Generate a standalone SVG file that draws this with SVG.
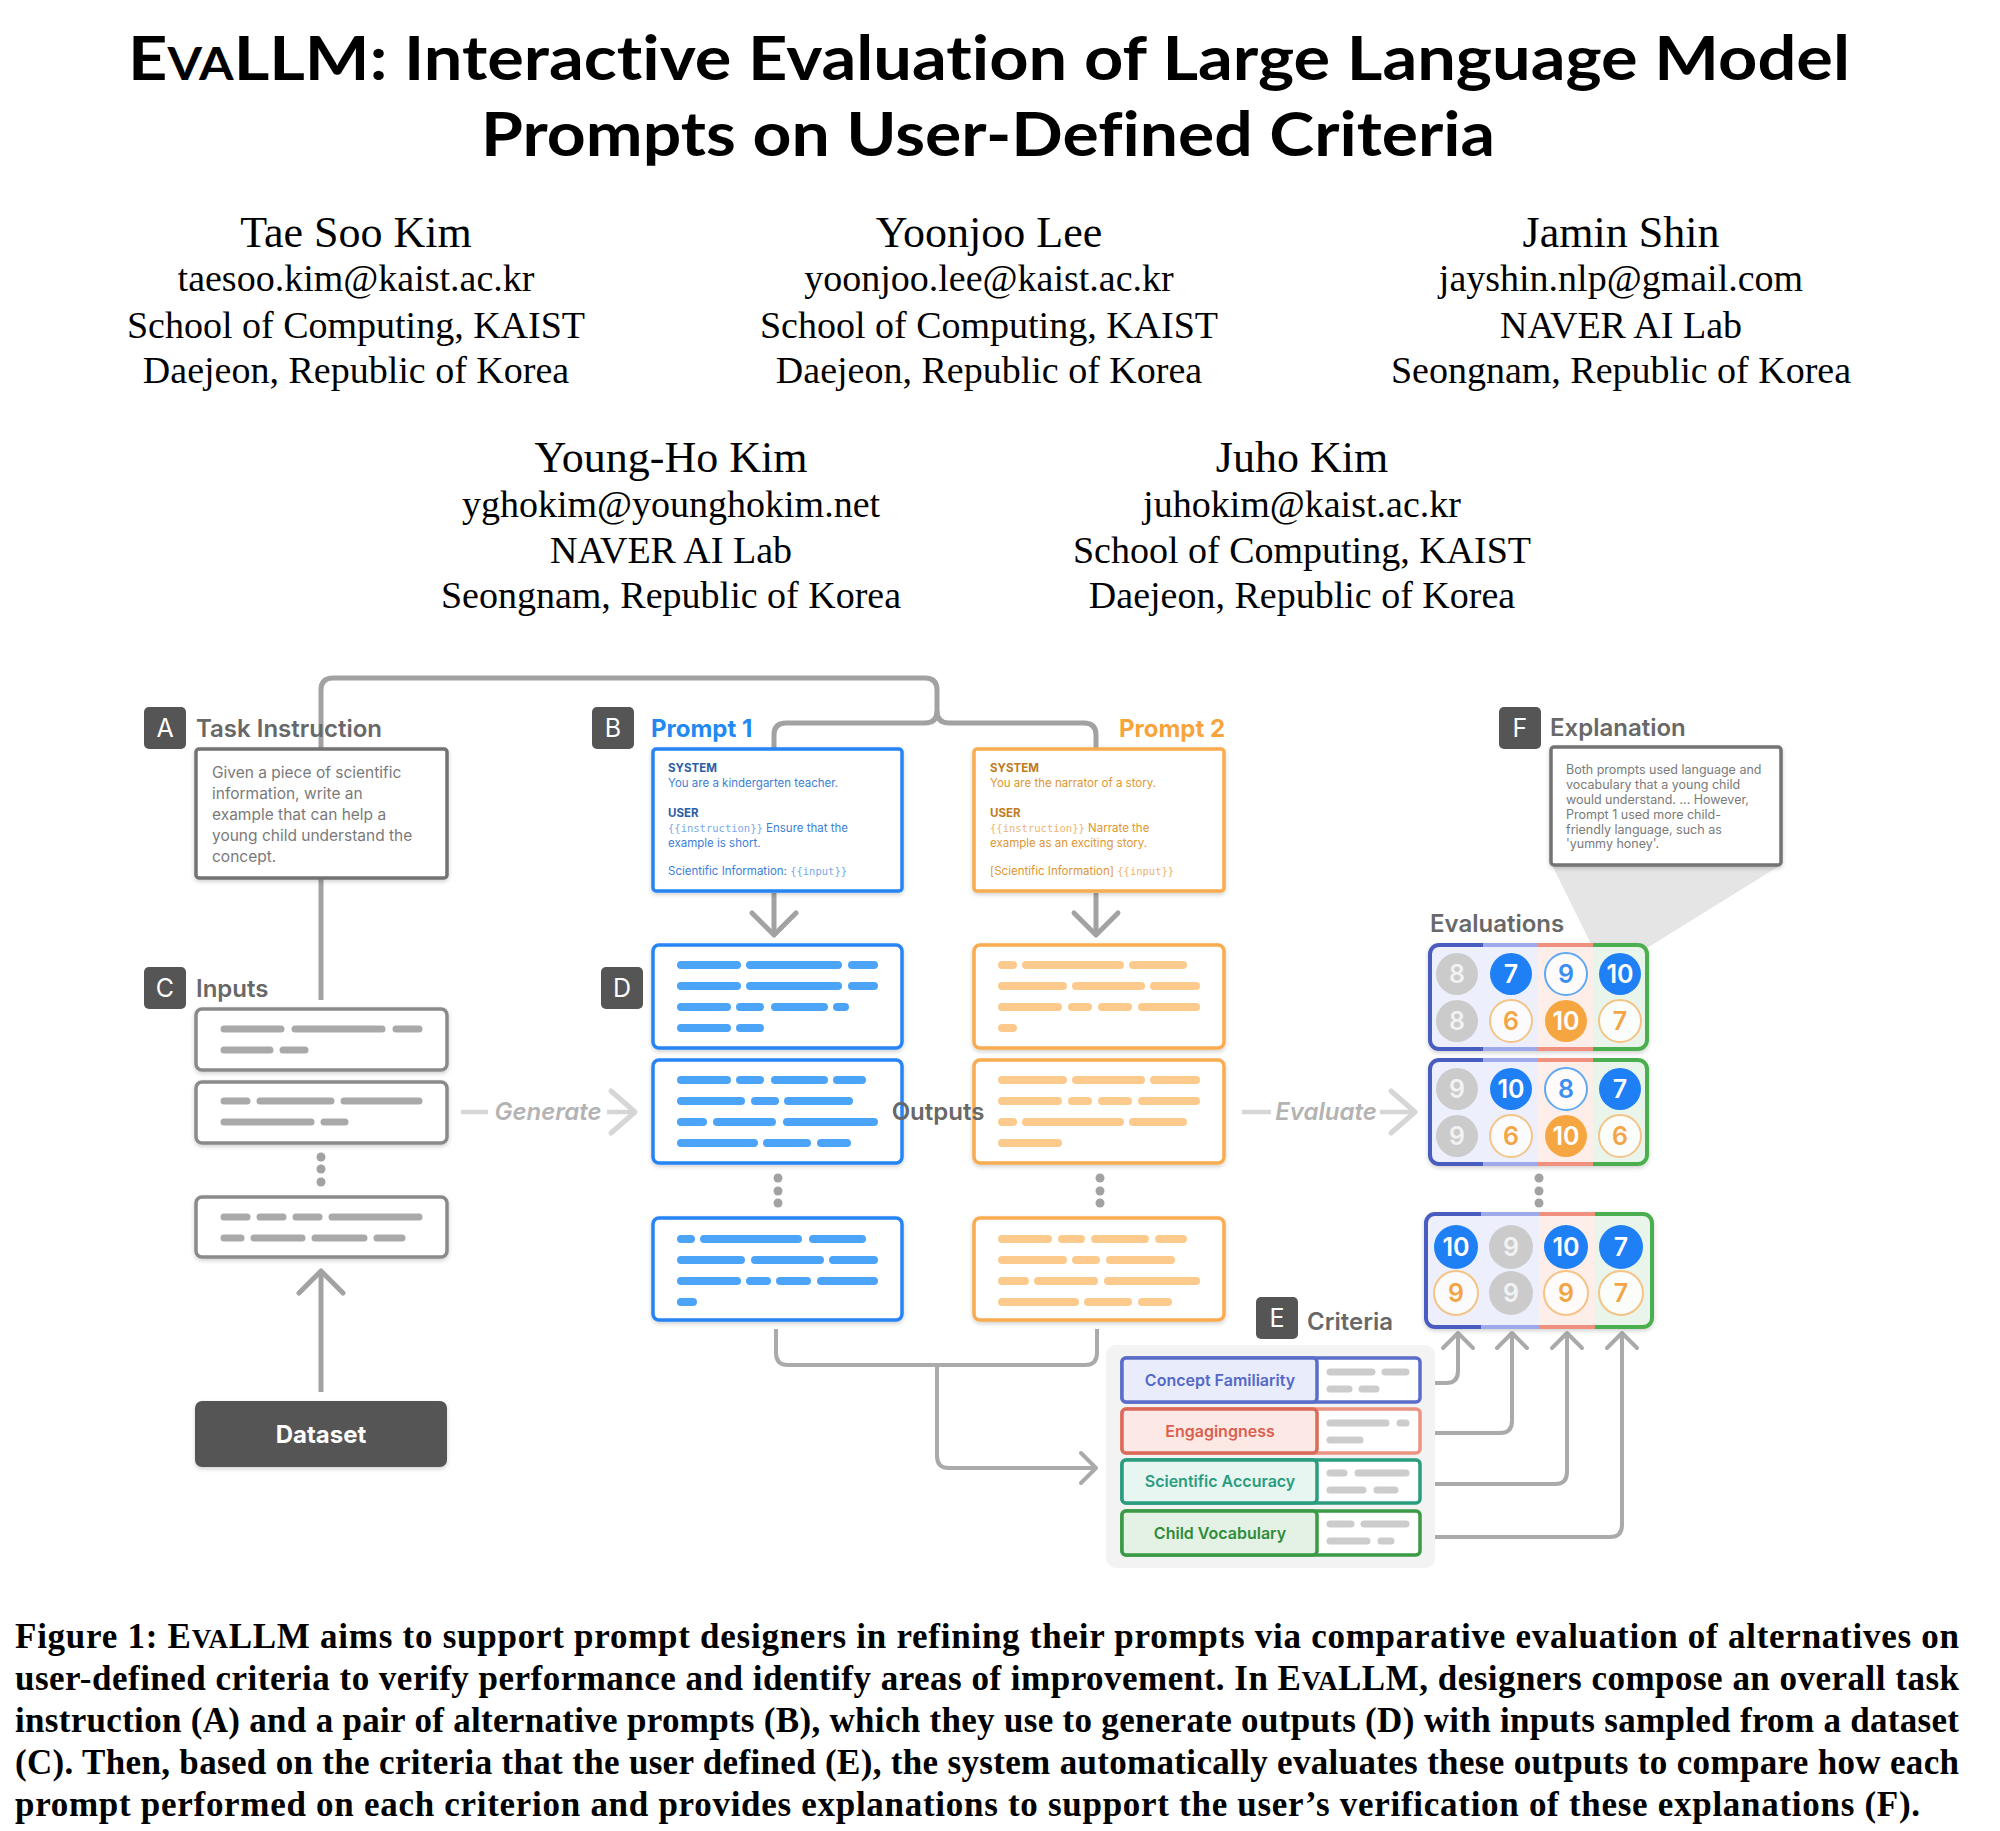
<svg xmlns="http://www.w3.org/2000/svg" width="2000" height="1831" viewBox="0 0 2000 1831">
<style>
text{font-variant-ligatures:none;font-feature-settings:"liga" 0,"clig" 0}
.title{font-family:Lato,"Noto Sans",sans-serif;font-weight:700;font-size:62px;fill:#000}
.nm{font-family:"Liberation Serif",serif;font-size:44px;fill:#000;text-anchor:middle}
.af{font-family:"Liberation Serif",serif;font-size:38px;fill:#000;text-anchor:middle}
.cap{font-family:"Liberation Serif",serif;font-weight:700;font-size:35px;fill:#000}
.lbl{font-family:Inter,"Noto Sans",sans-serif;font-weight:600;font-size:24px;fill:#686868}
.badge{fill:#555}
.bl{font-family:Inter,sans-serif;font-size:25px;fill:#fff;text-anchor:middle}
.box{fill:#fff;stroke:#737373;stroke-width:3.5}
.ibox{fill:#fff;stroke:#8a8a8a;stroke-width:3.5}
.pb{fill:#fff;stroke:#2584f5;stroke-width:3.5}
.po{fill:#fff;stroke:#f9ac4f;stroke-width:3.5}
.bbar{fill:none;stroke:#4ba4f7;stroke-width:8;stroke-linecap:round}
.obar{fill:none;stroke:#fdca8d;stroke-width:8;stroke-linecap:round}
.gbar{fill:none;stroke:#a9a9a9;stroke-width:7;stroke-linecap:round}
.cbar{fill:none;stroke:#cccccc;stroke-width:7;stroke-linecap:round}
.conn{fill:none;stroke:#a2a2a2;stroke-width:5}
.conn2{fill:none;stroke:#aaaaaa;stroke-width:4}
.light{fill:none;stroke:#d6d6d6;stroke-width:4.5}
.dot{fill:#a2a2a2}
.tx{font-family:Inter,"Noto Sans",sans-serif;font-size:15.5px;fill:#7a7a7a}
.ex{font-family:Inter,"Noto Sans",sans-serif;font-size:12.5px;fill:#7a7a7a}
.ph{font-family:Inter,"Noto Sans",sans-serif;font-size:11.5px;font-weight:700}
.pt{font-family:Inter,"Noto Sans",sans-serif;font-size:11.5px}
.mono{font-family:"DejaVu Sans Mono","Liberation Mono",monospace;font-size:10.5px}
.ev{fill:url(#evFill);stroke:url(#evStroke);stroke-width:4}
.num{font-family:Inter,"Noto Sans",sans-serif;font-weight:600;font-size:25px;text-anchor:middle}
.cg{fill:#cbcbcb}
.bf{fill:#1f80f5}
.bo{fill:#fff;fill-opacity:.75;stroke:#5ea8f6;stroke-width:2}
.of{fill:#f6a641}
.oo{fill:#fff;fill-opacity:.75;stroke:#f4c487;stroke-width:2}
.ng{fill:#f2f2f2}.nw{fill:#fff}.nb{fill:#3b8ef2}.no{fill:#f3a545}
.crit{font-family:Inter,"Noto Sans",sans-serif;font-weight:600;font-size:16px;text-anchor:middle}
.gen{font-family:Inter,"Noto Sans",sans-serif;font-weight:600;font-style:italic;font-size:24px;fill:#b3b3b3;text-anchor:middle}
</style>
<defs>
<filter id="sh" x="-10%" y="-10%" width="120%" height="135%">
<feDropShadow dx="0" dy="2" stdDeviation="2" flood-color="#000" flood-opacity="0.18"/>
</filter>
<linearGradient id="evStroke" x1="0" y1="0" x2="1" y2="0">
<stop offset="0" stop-color="#4a5bbf"/><stop offset=".245" stop-color="#4a5bbf"/>
<stop offset=".245" stop-color="#9eaaea"/><stop offset=".5" stop-color="#9eaaea"/>
<stop offset=".5" stop-color="#f0917f"/><stop offset=".75" stop-color="#f0917f"/>
<stop offset=".75" stop-color="#4caf50"/><stop offset="1" stop-color="#4caf50"/>
</linearGradient>
<linearGradient id="evFill" x1="0" y1="0" x2="1" y2="0">
<stop offset="0" stop-color="#edf0fc"/><stop offset=".5" stop-color="#edf0fc"/>
<stop offset=".5" stop-color="#fdeeea"/><stop offset=".75" stop-color="#fdeeea"/>
<stop offset=".75" stop-color="#e9f5ea"/><stop offset="1" stop-color="#e9f5ea"/>
</linearGradient>
<marker id="arrBig" viewBox="-28 -28 32 56" refX="0" refY="0" markerWidth="32" markerHeight="56" markerUnits="userSpaceOnUse" orient="auto">
<path d="M-22,-22 L0,0 L-22,22" fill="none" stroke="#a2a2a2" stroke-width="5" stroke-linecap="round" stroke-linejoin="round"/>
</marker>
<marker id="arrSmall" viewBox="-20 -20 24 40" refX="0" refY="0" markerWidth="24" markerHeight="40" markerUnits="userSpaceOnUse" orient="auto">
<path d="M-15,-15 L0,0 L-15,15" fill="none" stroke="#aaaaaa" stroke-width="4" stroke-linecap="round" stroke-linejoin="round"/>
</marker>
<marker id="arrLight" viewBox="-30 -26 34 52" refX="0" refY="0" markerWidth="34" markerHeight="52" markerUnits="userSpaceOnUse" orient="auto">
<path d="M-24,-21 L0,0 L-24,21" fill="none" stroke="#d6d6d6" stroke-width="5" stroke-linecap="round" stroke-linejoin="round"/>
</marker>
</defs>
<rect width="2000" height="1831" fill="#fff"/>

<g id="title">
<text class="title" x="128" y="80" textLength="1722" lengthAdjust="spacingAndGlyphs">E<tspan font-size="45">VA</tspan>LLM: Interactive Evaluation of Large Language Model</text>
<text class="title" x="481" y="156" textLength="1014" lengthAdjust="spacingAndGlyphs">Prompts on User-Defined Criteria</text>
</g>

<g id="authors">
<text class="nm" x="356" y="247">Tae Soo Kim</text>
<text class="af" x="356" y="291">taesoo.kim@kaist.ac.kr</text>
<text class="af" x="356" y="338">School of Computing, KAIST</text>
<text class="af" x="356" y="383">Daejeon, Republic of Korea</text>
<text class="nm" x="989" y="247">Yoonjoo Lee</text>
<text class="af" x="989" y="291">yoonjoo.lee@kaist.ac.kr</text>
<text class="af" x="989" y="338">School of Computing, KAIST</text>
<text class="af" x="989" y="383">Daejeon, Republic of Korea</text>
<text class="nm" x="1621" y="247">Jamin Shin</text>
<text class="af" x="1621" y="291">jayshin.nlp@gmail.com</text>
<text class="af" x="1621" y="338">NAVER AI Lab</text>
<text class="af" x="1621" y="383">Seongnam, Republic of Korea</text>
<text class="nm" x="671" y="472">Young-Ho Kim</text>
<text class="af" x="671" y="517">yghokim@younghokim.net</text>
<text class="af" x="671" y="563">NAVER AI Lab</text>
<text class="af" x="671" y="608">Seongnam, Republic of Korea</text>
<text class="nm" x="1302" y="472">Juho Kim</text>
<text class="af" x="1302" y="517">juhokim@kaist.ac.kr</text>
<text class="af" x="1302" y="563">School of Computing, KAIST</text>
<text class="af" x="1302" y="608">Daejeon, Republic of Korea</text>
</g>

<g id="connectors">
<path class="conn" d="M321,1000 V690 Q321,678 333,678 H925 Q937,678 937,690 V711 Q937,723 925,723 H786 Q774,723 774,735 V749"/>
<path class="conn" d="M937,711 Q937,723 949,723 H1084 Q1096,723 1096,735 V749"/>
<path class="conn" d="M321,1392 V1271" marker-end="url(#arrBig)"/>
<path class="conn" d="M774,893 V935" marker-end="url(#arrBig)"/>
<path class="conn" d="M1096,893 V935" marker-end="url(#arrBig)"/>
<path class="light" d="M461,1112 H488"/>
<path class="light" d="M607,1112 H635" marker-end="url(#arrLight)"/>
<path class="light" d="M1242,1112 H1271"/>
<path class="light" d="M1380,1112 H1415" marker-end="url(#arrLight)"/>
<path class="conn2" d="M776,1329 V1353 Q776,1365 788,1365 H1085 Q1097,1365 1097,1353 V1329"/>
<path class="conn2" d="M937,1365 V1456 Q937,1468 949,1468 H1096" marker-end="url(#arrSmall)"/>
<path class="conn2" d="M1424,1383 H1446 Q1458,1383 1458,1371 V1333" marker-end="url(#arrSmall)"/>
<path class="conn2" d="M1425,1433 H1500 Q1512,1433 1512,1421 V1333" marker-end="url(#arrSmall)"/>
<path class="conn2" d="M1425,1484 H1555 Q1567,1484 1567,1472 V1333" marker-end="url(#arrSmall)"/>
<path class="conn2" d="M1425,1537 H1610 Q1622,1537 1622,1525 V1333" marker-end="url(#arrSmall)"/>
<text class="gen" x="548" y="1120">Generate</text>
<text class="gen" x="1326" y="1120">Evaluate</text>
</g>

<g id="task-instruction">
<rect class="badge" x="144" y="707" width="42" height="42" rx="5"/>
<text class="bl" x="165" y="737">A</text>
<text class="lbl" x="196" y="737">Task Instruction</text>
<rect class="box" x="196" y="749" width="251" height="129" rx="3" filter="url(#sh)"/>
<text class="tx" x="212" y="778">Given a piece of scientific</text>
<text class="tx" x="212" y="799">information, write an</text>
<text class="tx" x="212" y="820">example that can help a</text>
<text class="tx" x="212" y="841">young child understand the</text>
<text class="tx" x="212" y="862">concept.</text>
</g>

<g id="inputs">
<rect class="badge" x="144" y="967" width="42" height="42" rx="5"/>
<text class="bl" x="165" y="997">C</text>
<text class="lbl" x="196" y="997">Inputs</text>
<rect class="ibox" x="196" y="1009" width="251" height="61" rx="6" filter="url(#sh)"/>
<path class="gbar" d="M224,1029H281M295,1029H382M396,1029H419M224,1050H270M283,1050H305"/>
<rect class="ibox" x="196" y="1082" width="251" height="61" rx="6" filter="url(#sh)"/>
<path class="gbar" d="M224,1101H247M260,1101H331M344,1101H419M224,1122H311M324,1122H345"/>
<circle class="dot" cx="321" cy="1157" r="4.5"/><circle class="dot" cx="321" cy="1169" r="4.5"/><circle class="dot" cx="321" cy="1182" r="4.5"/>
<rect class="ibox" x="196" y="1197" width="251" height="60" rx="6" filter="url(#sh)"/>
<path class="gbar" d="M224,1217H247M260,1217H283M296,1217H319M332,1217H419M224,1238H241M254,1238H302M315,1238H364M377,1238H402"/>
</g>

<g id="dataset">
<rect x="195" y="1401" width="252" height="66" rx="7" fill="#555" filter="url(#sh)"/>
<text x="321" y="1443" font-family="Inter,sans-serif" font-weight="700" font-size="24" fill="#fff" text-anchor="middle">Dataset</text>
</g>

<g id="prompts">
<rect class="badge" x="592" y="707" width="42" height="42" rx="5"/>
<text class="bl" x="613" y="737">B</text>
<text x="651" y="737" font-family="Inter,sans-serif" font-weight="700" font-size="24" fill="#2288f2">Prompt 1</text>
<text x="1225" y="737" font-family="Inter,sans-serif" font-weight="700" font-size="24" fill="#f7a43c" text-anchor="end">Prompt 2</text>
<rect class="pb" x="653" y="749" width="249" height="142" rx="3" filter="url(#sh)"/>
<text class="ph" x="668" y="772" fill="#2c5ea8">SYSTEM</text>
<text class="pt" x="668" y="787" fill="#3d7fd6">You are a kindergarten teacher.</text>
<text class="ph" x="668" y="817" fill="#2c5ea8">USER</text>
<text class="pt" x="668" y="832" fill="#3d7fd6"><tspan class="mono" fill="#79a9e8">{{instruction}}</tspan> Ensure that the</text>
<text class="pt" x="668" y="847" fill="#3d7fd6">example is short.</text>
<text class="pt" x="668" y="875" fill="#3d7fd6">Scientific Information: <tspan class="mono" fill="#79a9e8">{{input}}</tspan></text>
<rect class="po" x="974" y="749" width="250" height="142" rx="3" filter="url(#sh)"/>
<text class="ph" x="990" y="772" fill="#c07c22">SYSTEM</text>
<text class="pt" x="990" y="787" fill="#e0962f">You are the narrator of a story.</text>
<text class="ph" x="990" y="817" fill="#c07c22">USER</text>
<text class="pt" x="990" y="832" fill="#e0962f"><tspan class="mono" fill="#ecb66f">{{instruction}}</tspan> Narrate the</text>
<text class="pt" x="990" y="847" fill="#e0962f">example as an exciting story.</text>
<text class="pt" x="990" y="875" fill="#e0962f">[Scientific Information] <tspan class="mono" fill="#ecb66f">{{input}}</tspan></text>
</g>

<g id="outputs">
<rect class="badge" x="601" y="967" width="42" height="42" rx="5"/>
<text class="bl" x="622" y="997">D</text>
<rect class="pb" x="653" y="945" width="249" height="103" rx="6" filter="url(#sh)"/>
<path class="bbar" d="M681,965H737M750,965H838M852,965H874M681,986H737M750,986H838M852,986H874M681,1007H727M740,1007H760M775,1007H824M837,1007H845M681,1028H727M740,1028H760"/>
<rect class="pb" x="653" y="1060" width="249" height="103" rx="6" filter="url(#sh)"/>
<path class="bbar" d="M681,1080H727M740,1080H760M775,1080H824M837,1080H862M681,1101H741M755,1101H775M788,1101H849M681,1122H703M717,1122H772M787,1122H874M681,1143H754M767,1143H807M821,1143H847"/>
<circle class="dot" cx="778" cy="1178" r="4.5"/><circle class="dot" cx="778" cy="1191" r="4.5"/><circle class="dot" cx="778" cy="1203" r="4.5"/>
<rect class="pb" x="653" y="1218" width="249" height="102" rx="6" filter="url(#sh)"/>
<path class="bbar" d="M681,1239H691M704,1239H798M813,1239H862M681,1260H741M755,1260H820M833,1260H874M681,1281H737M750,1281H767M780,1281H807M821,1281H874M681,1302H693"/>
<rect class="po" x="974" y="945" width="250" height="103" rx="6" filter="url(#sh)"/>
<path class="obar" d="M1002,965H1013M1026,965H1120M1133,965H1183M1002,986H1063M1076,986H1141M1154,986H1196M1002,1007H1058M1072,1007H1088M1102,1007H1128M1142,1007H1196M1002,1028H1013"/>
<rect class="po" x="974" y="1060" width="250" height="103" rx="6" filter="url(#sh)"/>
<path class="obar" d="M1002,1080H1063M1076,1080H1141M1154,1080H1196M1002,1101H1058M1072,1101H1088M1102,1101H1128M1142,1101H1196M1002,1122H1013M1026,1122H1120M1133,1122H1183M1002,1143H1058"/>
<circle class="dot" cx="1100" cy="1178" r="4.5"/><circle class="dot" cx="1100" cy="1191" r="4.5"/><circle class="dot" cx="1100" cy="1203" r="4.5"/>
<rect class="po" x="974" y="1218" width="250" height="102" rx="6" filter="url(#sh)"/>
<path class="obar" d="M1002,1239H1048M1062,1239H1081M1095,1239H1145M1159,1239H1183M1002,1260H1063M1076,1260H1096M1110,1260H1171M1002,1281H1025M1038,1281H1094M1108,1281H1196M1002,1302H1075M1088,1302H1128M1142,1302H1168"/>
<text class="lbl" x="938" y="1120" text-anchor="middle">Outputs</text>
</g>

<g id="explanation">
<polygon points="1552,865 1781,865 1647,948 1593,948" fill="#e5e5e5"/>
<rect class="badge" x="1499" y="707" width="42" height="42" rx="5"/>
<text class="bl" x="1520" y="737">F</text>
<text class="lbl" x="1550" y="736">Explanation</text>
<rect class="box" x="1551" y="747" width="230" height="118" rx="3" filter="url(#sh)"/>
<text class="ex" x="1566" y="774">Both prompts used language and</text>
<text class="ex" x="1566" y="789">vocabulary that a young child</text>
<text class="ex" x="1566" y="804">would understand. ... However,</text>
<text class="ex" x="1566" y="819">Prompt 1 used more child-</text>
<text class="ex" x="1566" y="834">friendly language, such as</text>
<text class="ex" x="1566" y="848">'yummy honey'.</text>
</g>

<g id="evaluations">
<text class="lbl" x="1430" y="932">Evaluations</text>
<rect class="ev" x="1430" y="945" width="217" height="104" rx="9" filter="url(#sh)"/>
<circle class="cg" cx="1457" cy="974" r="21"/><text class="num ng" x="1457" y="983">8</text>
<circle class="bf" cx="1511" cy="974" r="21"/><text class="num nw" x="1511" y="983">7</text>
<circle class="bo" cx="1566" cy="974" r="21"/><text class="num nb" x="1566" y="983">9</text>
<circle class="bf" cx="1620" cy="974" r="21"/><text class="num nw" x="1620" y="983">10</text>
<circle class="cg" cx="1457" cy="1021" r="21"/><text class="num ng" x="1457" y="1030">8</text>
<circle class="oo" cx="1511" cy="1021" r="21"/><text class="num no" x="1511" y="1030">6</text>
<circle class="of" cx="1566" cy="1021" r="21"/><text class="num nw" x="1566" y="1030">10</text>
<circle class="oo" cx="1620" cy="1021" r="21"/><text class="num no" x="1620" y="1030">7</text>

<rect class="ev" x="1430" y="1060" width="217" height="104" rx="9" filter="url(#sh)"/>
<circle class="cg" cx="1457" cy="1089" r="21"/><text class="num ng" x="1457" y="1098">9</text>
<circle class="bf" cx="1511" cy="1089" r="21"/><text class="num nw" x="1511" y="1098">10</text>
<circle class="bo" cx="1566" cy="1089" r="21"/><text class="num nb" x="1566" y="1098">8</text>
<circle class="bf" cx="1620" cy="1089" r="21"/><text class="num nw" x="1620" y="1098">7</text>
<circle class="cg" cx="1457" cy="1136" r="21"/><text class="num ng" x="1457" y="1145">9</text>
<circle class="oo" cx="1511" cy="1136" r="21"/><text class="num no" x="1511" y="1145">6</text>
<circle class="of" cx="1566" cy="1136" r="21"/><text class="num nw" x="1566" y="1145">10</text>
<circle class="oo" cx="1620" cy="1136" r="21"/><text class="num no" x="1620" y="1145">6</text>

<circle class="dot" cx="1539" cy="1178" r="4.5"/><circle class="dot" cx="1539" cy="1191" r="4.5"/><circle class="dot" cx="1539" cy="1203" r="4.5"/>

<rect class="ev" x="1426" y="1214" width="226" height="113" rx="9" filter="url(#sh)"/>
<circle class="bf" cx="1456" cy="1247" r="22"/><text class="num nw" x="1456" y="1256">10</text>
<circle class="cg" cx="1511" cy="1247" r="22"/><text class="num ng" x="1511" y="1256">9</text>
<circle class="bf" cx="1566" cy="1247" r="22"/><text class="num nw" x="1566" y="1256">10</text>
<circle class="bf" cx="1621" cy="1247" r="22"/><text class="num nw" x="1621" y="1256">7</text>
<circle class="oo" cx="1456" cy="1293" r="22"/><text class="num no" x="1456" y="1302">9</text>
<circle class="cg" cx="1511" cy="1293" r="22"/><text class="num ng" x="1511" y="1302">9</text>
<circle class="oo" cx="1566" cy="1293" r="22"/><text class="num no" x="1566" y="1302">9</text>
<circle class="oo" cx="1621" cy="1293" r="22"/><text class="num no" x="1621" y="1302">7</text>
</g>

<g id="criteria">
<rect x="1106" y="1345" width="329" height="223" rx="10" fill="#f3f3f3"/>
<rect class="badge" x="1256" y="1297" width="42" height="42" rx="5"/>
<text class="bl" x="1277" y="1327">E</text>
<text class="lbl" x="1307" y="1330" fill="#5a5a5a">Criteria</text>
<rect x="1122" y="1358" width="298" height="44" rx="4" fill="#fff" stroke="#5b6dc8" stroke-width="3.5"/>
<rect x="1122" y="1358" width="195" height="44" rx="4" fill="#e9edfb" stroke="#5b6dc8" stroke-width="3.5"/>
<text class="crit" x="1220" y="1386" fill="#5468c9">Concept Familiarity</text>
<path class="cbar" d="M1330,1372H1372M1385,1372H1406M1330,1389H1349M1362,1389H1376"/>
<rect x="1122" y="1409" width="298" height="44" rx="4" fill="#fff" stroke="#ec9483" stroke-width="3.5"/>
<rect x="1122" y="1409" width="195" height="44" rx="4" fill="#fce9e5" stroke="#db6a58" stroke-width="3.5"/>
<text class="crit" x="1220" y="1437" fill="#d9604e">Engagingness</text>
<path class="cbar" d="M1330,1423H1386M1400,1423H1406M1330,1440H1360"/>
<rect x="1122" y="1460" width="298" height="43" rx="4" fill="#fff" stroke="#2a9d7f" stroke-width="3.5"/>
<rect x="1122" y="1460" width="195" height="43" rx="4" fill="#e8f6f2" stroke="#2a9d7f" stroke-width="3.5"/>
<text class="crit" x="1220" y="1487" fill="#2a9d7f">Scientific Accuracy</text>
<path class="cbar" d="M1330,1473H1344M1358,1473H1406M1330,1490H1363M1377,1490H1395"/>
<rect x="1122" y="1511" width="298" height="44" rx="4" fill="#fff" stroke="#3a9a45" stroke-width="3.5"/>
<rect x="1122" y="1511" width="195" height="44" rx="4" fill="#e3f2e4" stroke="#3a9a45" stroke-width="3.5"/>
<text class="crit" x="1220" y="1539" fill="#2f8c3a">Child Vocabulary</text>
<path class="cbar" d="M1330,1524H1351M1364,1524H1406M1330,1541H1367M1381,1541H1391"/>
</g>

<g id="caption">
<text class="cap" x="15" y="1648" textLength="1944" lengthAdjust="spacing">Figure 1: E<tspan font-size="27">VA</tspan>LLM aims to support prompt designers in refining their prompts via comparative evaluation of alternatives on</text>
<text class="cap" x="15" y="1690" textLength="1944" lengthAdjust="spacing">user-defined criteria to verify performance and identify areas of improvement. In E<tspan font-size="27">VA</tspan>LLM, designers compose an overall task</text>
<text class="cap" x="15" y="1732" textLength="1944" lengthAdjust="spacing">instruction (A) and a pair of alternative prompts (B), which they use to generate outputs (D) with inputs sampled from a dataset</text>
<text class="cap" x="15" y="1774" textLength="1944" lengthAdjust="spacing">(C). Then, based on the criteria that the user defined (E), the system automatically evaluates these outputs to compare how each</text>
<text class="cap" x="15" y="1816" textLength="1905" lengthAdjust="spacing">prompt performed on each criterion and provides explanations to support the user’s verification of these explanations (F).</text>
</g>
</svg>
